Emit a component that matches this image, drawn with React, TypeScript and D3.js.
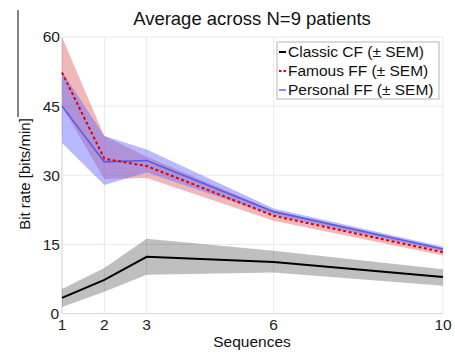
import React from "react";
import * as d3 from "d3";

// Sequences (x) and mean bit rate ± SEM per condition
const sequences = [1, 2, 3, 6, 10];

const classicMean = [3.4, 7.3, 12.3, 11.2, 7.9];
const classicLow = [1.4, 4.7, 8.4, 8.9, 6.0];
const classicHigh = [5.3, 9.9, 16.2, 13.6, 9.6];

const famousMean = [52.3, 33.6, 32.0, 21.2, 13.3];
const famousLow = [45.0, 29.2, 29.4, 20.1, 12.6];
const famousHigh = [60.0, 38.5, 34.0, 22.3, 14.0];

const personalMean = [45.0, 32.9, 33.2, 22.1, 14.0];
const personalLow = [37.0, 27.9, 30.6, 21.4, 13.5];
const personalHigh = [52.5, 38.5, 35.6, 22.8, 14.5];

const yTicks = [0, 15, 30, 45, 60];
const xTicks = [1, 2, 3, 6, 10];

const legendLabels = ["Classic CF (± SEM)", "Famous FF (± SEM)", "Personal FF (± SEM)"];

const W = 455;
const H = 354;
const left = 62;
const right = 443;
const top = 37;
const bottom = 313.5;
const font = "'Liberation Sans', Arial, sans-serif";

export default function App() {
  const x = d3.scaleLinear().domain([1, 10]).range([left, right]);
  const y = d3.scaleLinear().domain([0, 60]).range([bottom, top]);

  const band = (lo: number[], hi: number[]) =>
    d3
      .area<number>()
      .x((d) => x(d))
      .y0((_, i) => y(lo[i]))
      .y1((_, i) => y(hi[i]))(sequences) as string;

  const line = (vals: number[]) =>
    d3
      .line<number>()
      .x((d) => x(d))
      .y((_, i) => y(vals[i]))(sequences) as string;

  const grid = "#e9e9e9";

  const legendX = 277;
  const legendY = 42;
  const legendW = 162;
  const legendH = 57;
  const rowY = [57, 76, 95];
  const legendStyles = [
    { stroke: "#000", dash: "none", width: 2 },
    { stroke: "#e00000", dash: "2.5,2", width: 2 },
    { stroke: "#8c8cf0", dash: "none", width: 2 },
  ];

  return (
    <svg
      width={W}
      height={H}
      style={{ position: "absolute", left: 0, top: 0, background: "#fff" }}
      fontFamily={font}
    >
      {/* frame and grid */}
      {xTicks.map((t) => (
        <line key={"gx" + t} x1={x(t)} x2={x(t)} y1={top} y2={bottom} stroke={grid} />
      ))}
      {yTicks.map((t) => (
        <line key={"gy" + t} x1={left} x2={right} y1={y(t)} y2={y(t)} stroke={grid} />
      ))}
      <line x1={left} x2={left} y1={top} y2={bottom} stroke="#d8d8d8" />
      <line x1={left} x2={right} y1={bottom} y2={bottom} stroke="#d8d8d8" />

      {/* SEM bands */}
      <path d={band(classicLow, classicHigh)} fill="#000" fillOpacity={0.25} />
      <path d={band(famousLow, famousHigh)} fill="rgb(220,100,100)" fillOpacity={0.45} />
      <path d={band(personalLow, personalHigh)} fill="rgb(100,100,255)" fillOpacity={0.45} />

      {/* mean lines */}
      <path d={line(classicMean)} fill="none" stroke="#000" strokeWidth={2} />
      <path d={line(personalMean)} fill="none" stroke="rgb(90,90,230)" strokeWidth={1.6} />
      <path
        d={line(famousMean)}
        fill="none"
        stroke="#e00000"
        strokeWidth={2}
        strokeDasharray="3,2.5"
      />

      {/* tick labels */}
      {yTicks.map((t) => (
        <text
          key={"ty" + t}
          x={t === 0 ? 59 : 60}
          y={y(t)}
          dy="0.35em"
          textAnchor="end"
          fontSize={15.5}
          fill="#222"
        >
          {t}
        </text>
      ))}
      {xTicks.map((t) => (
        <text key={"tx" + t} x={x(t)} y={330} textAnchor="middle" fontSize={15.5} fill="#222">
          {t}
        </text>
      ))}

      {/* axis titles */}
      <text x={252} y={347} textAnchor="middle" fontSize={15.5} fill="#111">
        Sequences
      </text>
      <text
        transform={`translate(30,174) rotate(-90)`}
        textAnchor="middle"
        fontSize={15}
        fill="#111"
      >
        Bit rate [bits/min]
      </text>
      <text x={252} y={25} textAnchor="middle" fontSize={18.5} fill="#111">
        Average across N=9 patients
      </text>

      {/* left rule */}
      <line x1={18} x2={18} y1={10} y2={117} stroke="#333" strokeWidth={1.2} />

      {/* legend */}
      <rect
        x={legendX}
        y={legendY}
        width={legendW}
        height={legendH}
        fill="#fff"
        stroke="#b5b5b5"
      />
      {legendLabels.map((label, i) => (
        <g key={label}>
          <line
            x1={279}
            x2={286}
            y1={rowY[i] - 5}
            y2={rowY[i] - 5}
            stroke={legendStyles[i].stroke}
            strokeWidth={legendStyles[i].width}
            strokeDasharray={legendStyles[i].dash}
          />
          <text x={288} y={rowY[i]} fontSize={15.5} fill="#111">
            {label}
          </text>
        </g>
      ))}
    </svg>
  );
}
